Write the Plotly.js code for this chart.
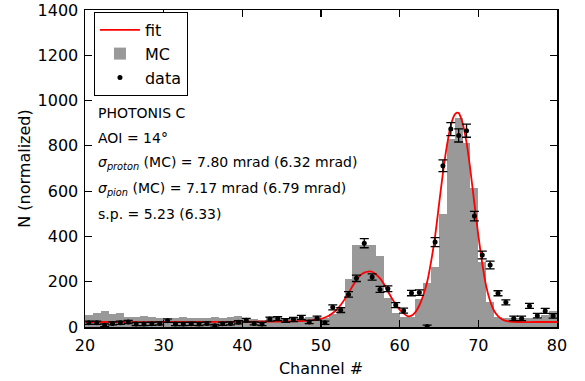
<!DOCTYPE html>
<html>
<head>
<meta charset="utf-8">
<script src="https://cdn.plot.ly/plotly-3.0.1.min.js"></script>
<style>html,body{margin:0;padding:0;background:#fff}#chart{width:585px;height:381px}</style>
</head>
<body>
<div id="chart"></div>
<script>
// MC histogram: bin centres (channel) and heights
const mcX = [20.5,21.5,22.5,23.5,24.5,25.5,26.5,27.5,28.5,29.5,30.5,31.5,32.5,33.5,34.5,35.5,36.5,37.5,38.5,39.5,40.5,41.5,42.5,43.5,44.5,45.5,46.5,47.5,48.5,49.5,50.5,51.5,52.5,53.5,54.5,55.5,56.5,57.5,58.5,59.5,60.5,61.5,62.5,63.5,64.5,65.5,66.5,67.5,68.5,69.5,70.5,71.5,72.5,73.5,74.5,75.5,76.5,77.5,78.5,79.5];
const mcY = [53,60,71,57,62,44,45,48,43,40,36,41,43,38,41,38,43,40,45,49,34,34,32,45,43,40,45,40,42,44,40,58,90,212,362,362,362,315,127,62,45,45,122,193,266,498,829,922,814,612,288,112,45,40,38,38,38,40,55,72];

// data points
const dataX = mcX;
const dataY = [19,19,8,16,19,22,13,13,14,16,28,13,13,14,13,16,5,14,16,21,30,16,13,35,37,29,33,42,22,39,19,87,75,144,215,370,221,166,169,97,72,150,152,2,375,712,874,846,867,490,318,274,149,109,38,38,93,50,71,49];
const dataErr = [7,7,6,7,7,7,7,7,7,7,8,7,7,7,7,7,6,7,7,7,8,7,7,9,9,8,9,9,7,9,7,11,11,12,14,20,14,13,13,11,11,12,12,6,20,26,29,29,29,21,17,17,11,11,10,10,11,10,11,10];

// fit curve
const fitX = [20,25,30,35,40,45,48,49,50,50.5,51,51.5,52,52.5,53,53.5,54,54.5,55,55.5,56,56.5,57,57.5,58,58.5,59,59.5,60,60.5,61,61.5,62,62.5,63,63.5,64,64.5,65,65.5,66,66.5,67,67.3,67.5,68,68.5,69,69.5,70,70.5,71,71.5,72,72.5,73,73.5,74,75,77,80];
const fitY = [22,22,22,23,23,24,27,30,36,42,50,62,77,97,122,150,180,207,228,240,245,244,232,215,190,158,127,100,77,60,48,50,66,95,140,200,290,400,540,680,800,890,938,947,945,900,815,690,545,405,280,180,115,72,48,34,27,24,22,22,22];

const xTicks = [20,30,40,50,60,70,80];
const yTicks = [0,200,400,600,800,1000,1200,1400];

const infoLines = [
  'PHOTONIS C',
  'AOI = 14°',
  '<i>σ</i><sub><i>proton</i></sub> (MC) = 7.80 mrad (6.32 mrad)',
  '<i>σ</i><sub><i>pion</i></sub> (MC) = 7.17 mrad (6.79 mrad)',
  's.p. = 5.23 (6.33)'
];
const infoY = [0.675, 0.596, 0.517, 0.435, 0.356];

const traces = [
  {type:'scatter', mode:'lines', name:'fit', x:fitX, y:fitY,
   line:{color:'#ff0000', width:1.8, shape:'spline', smoothing:0.6}, hoverinfo:'skip'},
  {type:'bar', name:'MC', x:mcX, y:mcY, width:1,
   marker:{color:'#999999', line:{width:0}}},
  {type:'scatter', mode:'markers', name:'data', x:dataX, y:dataY,
   marker:{color:'#000000', size:5, symbol:'circle'},
   error_y:{type:'data', array:dataErr, visible:true, color:'#000000', thickness:1.3, width:4.5}}
];

const axisCommon = {
  showgrid:false, zeroline:false, showline:true, linecolor:'#000', linewidth:1.5,
  mirror:'allticks', ticks:'inside', ticklen:7, tickwidth:1.2, tickcolor:'#000',
  tickfont:{family:'DejaVu Sans', size:16, color:'#000'}
};

const layout = {
  width:585, height:381,
  margin:{l:85, r:28, t:10, b:54},
  paper_bgcolor:'#fff', plot_bgcolor:'#fff',
  font:{family:'DejaVu Sans', color:'#000'},
  bargap:0,
  showlegend:true,
  legend:{x:0.019, y:0.994, xanchor:'left', yanchor:'top', bgcolor:'#fff',
    bordercolor:'#000', borderwidth:1, font:{family:'DejaVu Sans', size:16}, itemwidth:40},
  xaxis:Object.assign({}, axisCommon, {range:[20,80], tickvals:xTicks, ticktext:xTicks.map(String),
    ticklabelstandoff:3,
    title:{text:'Channel #', font:{family:'DejaVu Sans', size:16}, standoff:9}}),
  yaxis:Object.assign({}, axisCommon, {range:[0,1400], tickvals:yTicks, ticktext:yTicks.map(String),
    ticklabelstandoff:2,
    title:{text:'N (normalized)', font:{family:'DejaVu Sans', size:16}, standoff:3}}),
  annotations: infoLines.map((t,i)=>({text:t, xref:'paper', yref:'paper', x:0.0233, y:infoY[i],
    xanchor:'left', yanchor:'middle', showarrow:false, font:{family:'DejaVu Sans', size:14, color:'#000'}}))
};

Plotly.newPlot('chart', traces, layout, {displayModeBar:false, staticPlot:true});
</script>
</body>
</html>
